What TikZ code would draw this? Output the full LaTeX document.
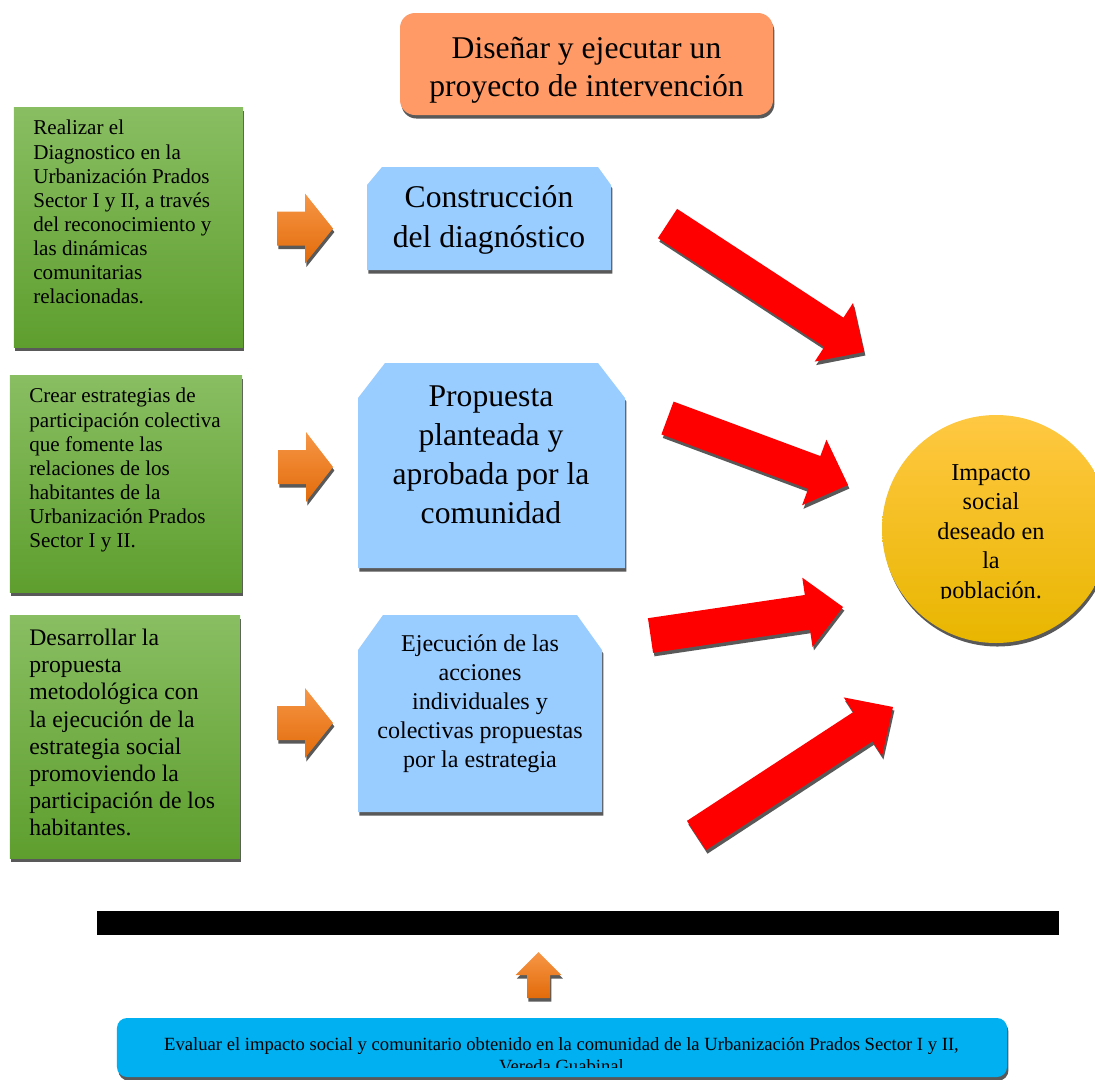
\documentclass[tikz,border=0pt]{standalone}
\usepackage{fontspec}
\setmainfont{Liberation Serif}
\usetikzlibrary{calc,shadows}

\definecolor{verdeA}{RGB}{137,190,98}
\definecolor{verdeB}{RGB}{94,158,46}
\definecolor{azulclaro}{RGB}{153,204,255}
\definecolor{salmon}{RGB}{255,153,102}
\definecolor{naranjaA}{RGB}{247,150,70}
\definecolor{naranjaB}{RGB}{226,107,10}
\definecolor{oroA}{RGB}{255,200,66}
\definecolor{oroB}{RGB}{232,182,0}
\definecolor{celeste}{RGB}{0,176,240}
\definecolor{sombra}{RGB}{89,89,89}

% flecha de bloque: estilo, cola, punta, medio ancho del cuerpo, medio ancho de la cabeza, largo de la cabeza
\newcommand{\flecha}[6]{%
  \coordinate (hb) at ($(#3)!#6!(#2)$);
  \path[#1] ($(#2)!#4!90:(#3)$) -- ($(hb)!#4!90:(#3)$) -- ($(hb)!#5!90:(#3)$) -- (#3)
    -- ($(hb)!#5!-90:(#3)$) -- ($(hb)!#4!-90:(#3)$) -- ($(#2)!#4!-90:(#3)$) -- cycle;
}

\begin{document}
\begin{tikzpicture}[x=0.2mm, y=-0.2mm,
    sombreado/.style={drop shadow={shadow xshift=0.8pt, shadow yshift=-2pt, fill=sombra, opacity=1}},
    cajaverde/.style={rectangle, inner sep=0pt, top color=verdeA, bottom color=verdeB, sombreado},
    cajaazul/.style={fill=azulclaro, sombreado},
    flecharoja/.style={fill=red, sombreado},
    flechanaranja/.style={top color=naranjaA, bottom color=naranjaB, sombreado}]
    \useasboundingbox (0,0) rectangle (1095,1079);

    % titulo
    \node[rectangle, rounded corners=3mm, minimum width=74.6mm, minimum height=20.4mm,
          fill=salmon, sombreado] (titulo) at (586.5,64) {};
    \node[align=center, inner sep=0pt, font=\fontsize{18}{21.6}\selectfont] (titulotxt) at (586.5,70)
        {Diseñar y ejecutar un\\proyecto de intervención};

    % cajas verdes
    \node[cajaverde, minimum width=45.8mm, minimum height=48mm] (g1) at (128.5,227) {};
    \node[cajaverde, minimum width=46.4mm, minimum height=43.4mm] (g2) at (126,483.5) {};
    \node[cajaverde, minimum width=46mm, minimum height=48.6mm] (g3) at (125,736.5) {};
    \node[anchor=north west, align=left, inner sep=0pt, font=\fontsize{12}{13.7}\selectfont] (g1t) at (33,120)
        {Realizar el\\Diagnostico en la\\Urbanización Prados\\Sector I y II, a través\\del reconocimiento y\\las dinámicas\\comunitarias\\relacionadas.};
    \node[anchor=north west, align=left, inner sep=0pt, font=\fontsize{12}{13.7}\selectfont] (g2t) at (29,388)
        {Crear estrategias de\\participación colectiva\\que fomente las\\relaciones de los\\habitantes de la\\Urbanización Prados\\Sector I y II.};
    \node[anchor=north west, align=left, inner sep=0pt, font=\fontsize{13.5}{15.4}\selectfont] (g3t) at (29,629)
        {Desarrollar la\\propuesta\\metodológica con\\la ejecución de la\\estrategia social\\promoviendo la\\participación de los\\habitantes.};

    % flechas naranjas
    \coordinate (o1a) at (277,228.5); \coordinate (o1b) at (333,228.5);
    \coordinate (o2a) at (278,467);   \coordinate (o2b) at (333,467);
    \coordinate (o3a) at (277,723);   \coordinate (o3b) at (333,723);
    \flecha{flechanaranja}{o1a}{o1b}{3.4mm}{7mm}{5.6mm}
    \flecha{flechanaranja}{o2a}{o2b}{3.4mm}{7mm}{5.4mm}
    \flecha{flechanaranja}{o3a}{o3b}{3.4mm}{7mm}{5.6mm}

    % cajas azules
    \fill[cajaazul] (367,270) -- (367,185) -- (382,167) -- (598,167) -- (611,185) -- (611,270) -- cycle;
    \fill[cajaazul] (358,568) -- (358,398) -- (385,363) -- (598,363) -- (625,398) -- (625,568) -- cycle;
    \fill[cajaazul] (358,812) -- (358,650) -- (383,615) -- (577,615) -- (602,650) -- (602,812) -- cycle;
    \node[align=center, inner sep=0pt, font=\fontsize{18}{22.8}\selectfont] (b1) at (489,220)
        {Construcción\\del diagnóstico};
    \node[align=center, inner sep=0pt, font=\fontsize{18}{22.2}\selectfont] (b2) at (491,455)
        {Propuesta\\planteada y\\aprobada por la\\comunidad};
    \node[align=center, inner sep=0pt, font=\fontsize{13.7}{16.5}\selectfont] (b3) at (480,704)
        {Ejecución de las\\acciones\\individuales y\\colectivas propuestas\\por la estrategia};

    % flechas rojas
    \coordinate (r1a) at (667.5,223.5); \coordinate (r1b) at (864,352);
    \coordinate (r2a) at (667.5,418);   \coordinate (r2b) at (848,485);
    \coordinate (r3a) at (650.5,635.5); \coordinate (r3b) at (843,607);
    \coordinate (r4a) at (696.5,835.5); \coordinate (r4b) at (893,707);
    \flecha{flecharoja}{r1a}{r1b}{3.5mm}{7mm}{7.2mm}
    \flecha{flecharoja}{r2a}{r2b}{3.5mm}{7mm}{7.2mm}
    \flecha{flecharoja}{r3a}{r3b}{3.5mm}{7mm}{7.2mm}
    \flecha{flecharoja}{r4a}{r4b}{3.5mm}{7mm}{7.2mm}

    % circulo
    \node[circle, inner sep=0pt, minimum size=45.6mm, top color=oroA, bottom color=oroB, sombreado] (impacto)
        at (996,529) {};
    \begin{scope}
        \clip (870,400) rectangle (1095,598);
        \node[align=center, inner sep=0pt, font=\fontsize{13.8}{16.8}\selectfont] (impactotxt) at (991,534)
            {Impacto\\social\\deseado en\\la\\población.};
    \end{scope}

    % barra y evaluacion
    \fill (97,911) rectangle (1059,935);
    \coordinate (ua) at (538.5,998); \coordinate (ub) at (538.5,952);
    \flecha{flechanaranja}{ua}{ub}{2.3mm}{4.6mm}{4.6mm}
    \node[rectangle, rounded corners=2mm, minimum width=178mm, minimum height=11.8mm,
          fill=celeste, sombreado] (evaluar) at (562,1047.5) {};
    \begin{scope}
        \clip (117,1018) rectangle (1007,1067);
        \node[align=center, inner sep=0pt, font=\fontsize{10.6}{12.2}\selectfont] (evaluartxt) at (561.5,1055)
            {Evaluar el impacto social y comunitario obtenido en la comunidad de la Urbanización Prados Sector I y II,\\Vereda Guabinal};
    \end{scope}
\end{tikzpicture}
\end{document}
